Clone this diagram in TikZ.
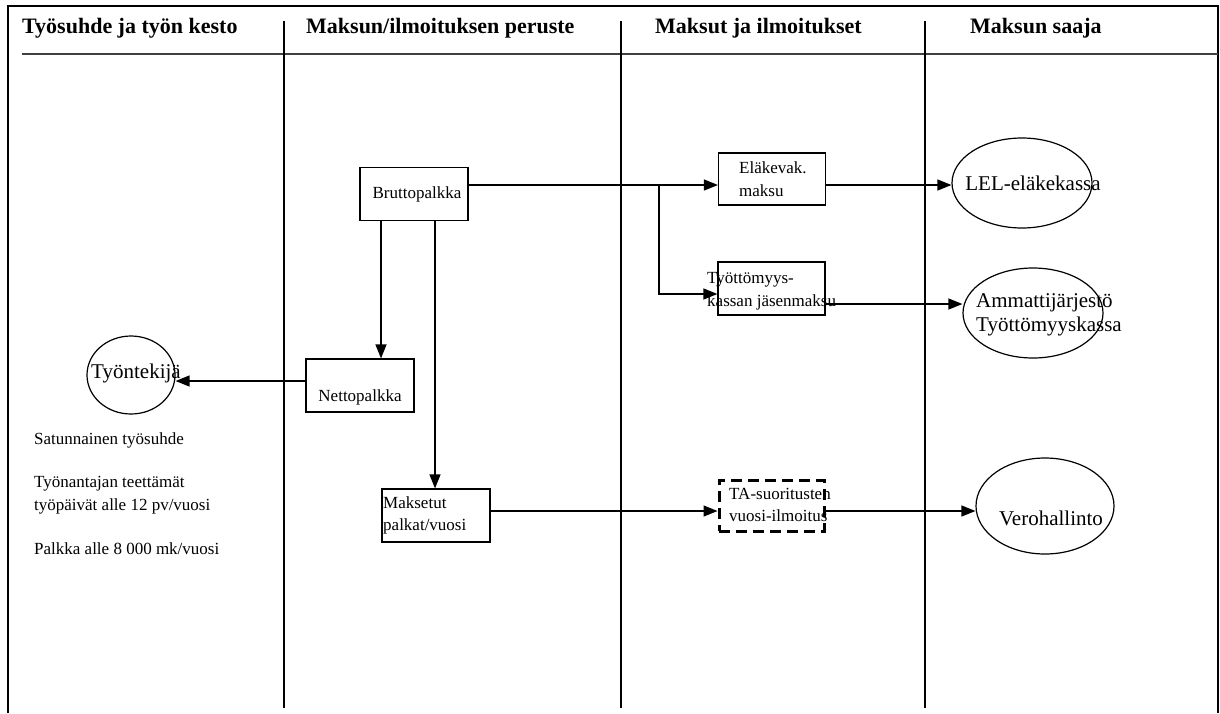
\documentclass[tikz,border=0pt]{standalone}
\usepackage{fontspec}
\setmainfont{Liberation Serif}
\usetikzlibrary{arrows.meta,shapes.geometric,calc}
\begin{document}
\begin{tikzpicture}[x=1pt,y=-1pt,
 frame/.style={line width=1.8pt},
 divider/.style={line width=1.3pt},
 box/.style={draw,line width=1.2pt,minimum width=108pt,minimum height=53pt,inner sep=0pt},
 dbox/.style={box,line width=3pt,dash pattern=on 11pt off 6pt},
 oval/.style={draw,ellipse,line width=1.2pt,inner sep=0pt},
 lbl/.style={font=\fontsize{17}{22.5}\selectfont,inner sep=0pt,align=left},
 big/.style={font=\fontsize{21}{24.5}\selectfont,inner sep=0pt,align=left},
 head/.style={font=\fontsize{22}{26}\selectfont\bfseries,inner sep=0pt,anchor=base west},
 conn/.style={line width=1.3pt,-{Triangle[length=14pt,width=11pt]}},
 ]
\useasboundingbox (0,0) rectangle (1220,713);
% frame
\draw[frame] (8,713) -- (8,6) -- (1218,6) -- (1218,713);
\draw[line width=1.8pt,black!75] (22,54) -- (1218,54);
\foreach \x in {284,621,925} \draw[divider] (\x,21) -- (\x,708);
% headers
\node[head] (h1) at (22,33) {Työsuhde ja työn kesto};
\node[head] (h2) at (306,33) {Maksun/ilmoituksen peruste};
\node[head] (h3) at (655,33) {Maksut ja ilmoitukset};
\node[head] (h4) at (970,33) {Maksun saaja};
% boxes
\node[box] (brutto) at (414,194) {};
\node[lbl] (bruttot) at (417,194) {Bruttopalkka};
\node[box,minimum height=52pt,minimum width=107pt] (elake) at (772,179) {};
\node[lbl,anchor=west] (elaket) at (739,179) {Eläkevak.\\maksu};
\node[box,minimum width=107pt] (tyott) at (771.5,288.5) {};
\node[lbl,anchor=west] (tyottt) at (707,291) {Työttömyys-\\kassan jäsenmaksu};
\node[box] (netto) at (360,385.5) {};
\node[lbl] (nettot) at (360,397) {Nettopalkka};
\node[box] (maks) at (436,515.5) {};
\node[lbl,anchor=west] (makst) at (383,515.5) {Maksetut\\palkat/vuosi};
\node[dbox,minimum width=105pt,minimum height=51pt] (ta) at (771.5,505.5) {};
\node[lbl,anchor=west] (tat) at (729,505) {TA-suoritusten\\vuosi-ilmoitus};
% ovals
\node[oval,minimum width=88pt,minimum height=78pt] (tyontekija) at (131,375) {};
\node[big] (tyontekijat) at (136,373) {Työntekijä};
\node[oval,minimum width=140pt,minimum height=90pt] (lel) at (1022,183) {};
\node[big] (lelt) at (1033,183) {LEL-eläkekassa};
\node[oval,minimum width=140pt,minimum height=90pt] (amm) at (1033,313) {};
\node[big,anchor=west] (ammt) at (976,315) {Ammattijärjestö\\Työttömyyskassa};
\node[oval,minimum width=138pt,minimum height=96pt] (vero) at (1045,506) {};
\node[big] (verot) at (1051,518) {Verohallinto};
% left notes
\node[lbl,anchor=west] (n1) at (34,440) {Satunnainen työsuhde};
\node[lbl,anchor=west] (n2) at (34,495) {Työnantajan teettämät\\työpäivät alle 12 pv/vuosi};
\node[lbl,anchor=west] (n3) at (34,549) {Palkka alle 8 000 mk/vuosi};
% helper coordinates
\coordinate (j1) at (659,185);
\coordinate (j2) at (659,294);
\coordinate (hA) at (0,304);
\coordinate (v1) at (381,0);
\coordinate (v2) at (435,0);
\coordinate (h1c) at (0,381);
\coordinate (h2c) at (0,511);
% connectors
\draw[conn] (brutto.east |- j1) -- (elake.west |- j1);
\draw[conn] (j1) -- (j2) -- (tyott.west |- j2);
\draw[conn] (elake.east |- j1) -- (lel.west |- j1);
\draw[conn] (tyott.east |- hA) -- (amm.west |- hA);
\draw[conn] (brutto.south -| v1) -- (netto.north -| v1);
\draw[conn] (brutto.south -| v2) -- (maks.north -| v2);
\draw[conn] (netto.west |- h1c) -- (tyontekija.east |- h1c);
\draw[conn] (maks.east |- h2c) -- (ta.west |- h2c);
\draw[conn] (ta.east |- h2c) -- (vero.west |- h2c);
\end{tikzpicture}
\end{document}
